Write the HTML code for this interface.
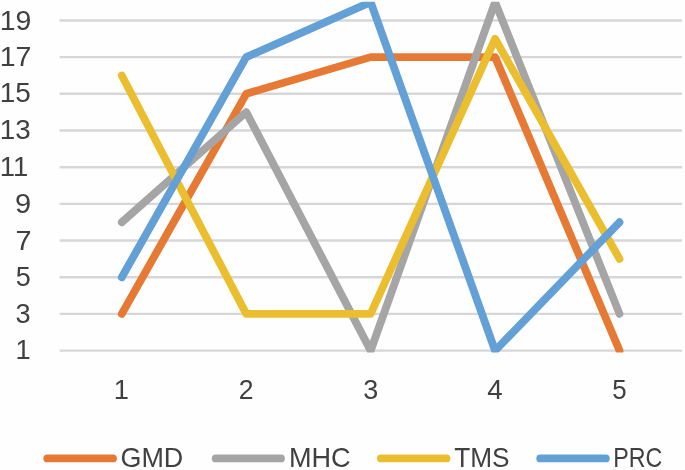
<!DOCTYPE html><html><head><meta charset="utf-8"><style>
html,body{margin:0;padding:0;background:#fefefe;width:685px;height:470px;overflow:hidden}
svg{display:block;will-change:transform}
text{font-family:"Liberation Sans",sans-serif;fill:#404040}
</style></head><body>
<svg width="685" height="470" viewBox="0 0 685 470">
<defs><clipPath id="pc"><rect x="0" y="1.8" width="685" height="350.6"/></clipPath></defs>

<line x1="59.6" y1="350.60" x2="682" y2="350.60" stroke="#D6D7D6" stroke-width="2.4"/>
<line x1="59.6" y1="313.92" x2="682" y2="313.92" stroke="#D6D7D6" stroke-width="2.4"/>
<line x1="59.6" y1="277.23" x2="682" y2="277.23" stroke="#D6D7D6" stroke-width="2.4"/>
<line x1="59.6" y1="240.55" x2="682" y2="240.55" stroke="#D6D7D6" stroke-width="2.4"/>
<line x1="59.6" y1="203.86" x2="682" y2="203.86" stroke="#D6D7D6" stroke-width="2.4"/>
<line x1="59.6" y1="167.18" x2="682" y2="167.18" stroke="#D6D7D6" stroke-width="2.4"/>
<line x1="59.6" y1="130.50" x2="682" y2="130.50" stroke="#D6D7D6" stroke-width="2.4"/>
<line x1="59.6" y1="93.81" x2="682" y2="93.81" stroke="#D6D7D6" stroke-width="2.4"/>
<line x1="59.6" y1="57.13" x2="682" y2="57.13" stroke="#D6D7D6" stroke-width="2.4"/>
<line x1="59.6" y1="20.44" x2="682" y2="20.44" stroke="#D6D7D6" stroke-width="2.4"/>
<text transform="translate(15.43,359.30) scale(0.9525,1)" font-size="28.49">1</text>
<text transform="translate(15.56,322.50) scale(0.9551,1)" font-size="28.49">3</text>
<text transform="translate(15.82,285.65) scale(0.9477,1)" font-size="28.49">5</text>
<text transform="translate(15.42,249.50) scale(1.0115,1)" font-size="28.49">7</text>
<text transform="translate(14.94,212.60) scale(1.0183,1)" font-size="28.49">9</text>
<text transform="translate(-0.19,175.75) scale(0.9635,1)" font-size="28.49">11</text>
<text transform="translate(-0.22,139.10) scale(0.9764,1)" font-size="28.49">13</text>
<text transform="translate(-0.23,102.10) scale(0.9816,1)" font-size="28.49">15</text>
<text transform="translate(-0.27,66.10) scale(1.0005,1)" font-size="28.49">17</text>
<text transform="translate(-0.26,29.50) scale(0.9976,1)" font-size="28.49">19</text>
<text transform="translate(113.72,399.40) scale(0.9607,1)" font-size="28.49">1</text>
<text transform="translate(238.86,399.40) scale(0.9323,1)" font-size="28.49">2</text>
<text transform="translate(363.27,399.40) scale(0.9477,1)" font-size="28.49">3</text>
<text transform="translate(487.36,399.40) scale(0.9752,1)" font-size="28.49">4</text>
<text transform="translate(612.26,399.40) scale(0.9106,1)" font-size="28.49">5</text>
<g clip-path="url(#pc)" fill="none" stroke-linejoin="round" stroke-linecap="round">
<polyline points="121.80,313.92 246.23,93.81 370.66,57.13 495.09,57.13 619.52,350.60" stroke="#E67A35" stroke-width="7.8"/>
<polyline points="121.80,222.21 246.23,112.15 370.66,350.60 495.09,2.10 619.52,313.92" stroke="#A5A5A5" stroke-width="7.8"/>
<polyline points="121.80,75.47 246.23,313.92 370.66,313.92 495.09,38.79 619.52,258.89" stroke="#EBBE30" stroke-width="7.8"/>
<polyline points="121.80,277.23 246.23,57.13 370.66,2.10 495.09,350.60 619.52,222.21" stroke="#62A0D6" stroke-width="7.8"/>
</g>
<line x1="47.30" y1="458.4" x2="113.00" y2="458.4" stroke="#E67A35" stroke-width="7.8" stroke-linecap="round"/>
<text transform="translate(120.45,466.80) scale(0.9806,1)" font-size="27.47">GMD</text>
<line x1="215.70" y1="458.4" x2="281.00" y2="458.4" stroke="#A5A5A5" stroke-width="7.8" stroke-linecap="round"/>
<text transform="translate(288.88,466.80) scale(0.9872,1)" font-size="27.47">MHC</text>
<line x1="380.90" y1="458.4" x2="446.50" y2="458.4" stroke="#EBBE30" stroke-width="7.8" stroke-linecap="round"/>
<text transform="translate(454.21,466.80) scale(0.9553,1)" font-size="27.47">TMS</text>
<line x1="540.20" y1="458.4" x2="605.80" y2="458.4" stroke="#62A0D6" stroke-width="7.8" stroke-linecap="round"/>
<text transform="translate(613.19,466.80) scale(0.8464,1)" font-size="27.47">PRC</text>
</svg></body></html>
